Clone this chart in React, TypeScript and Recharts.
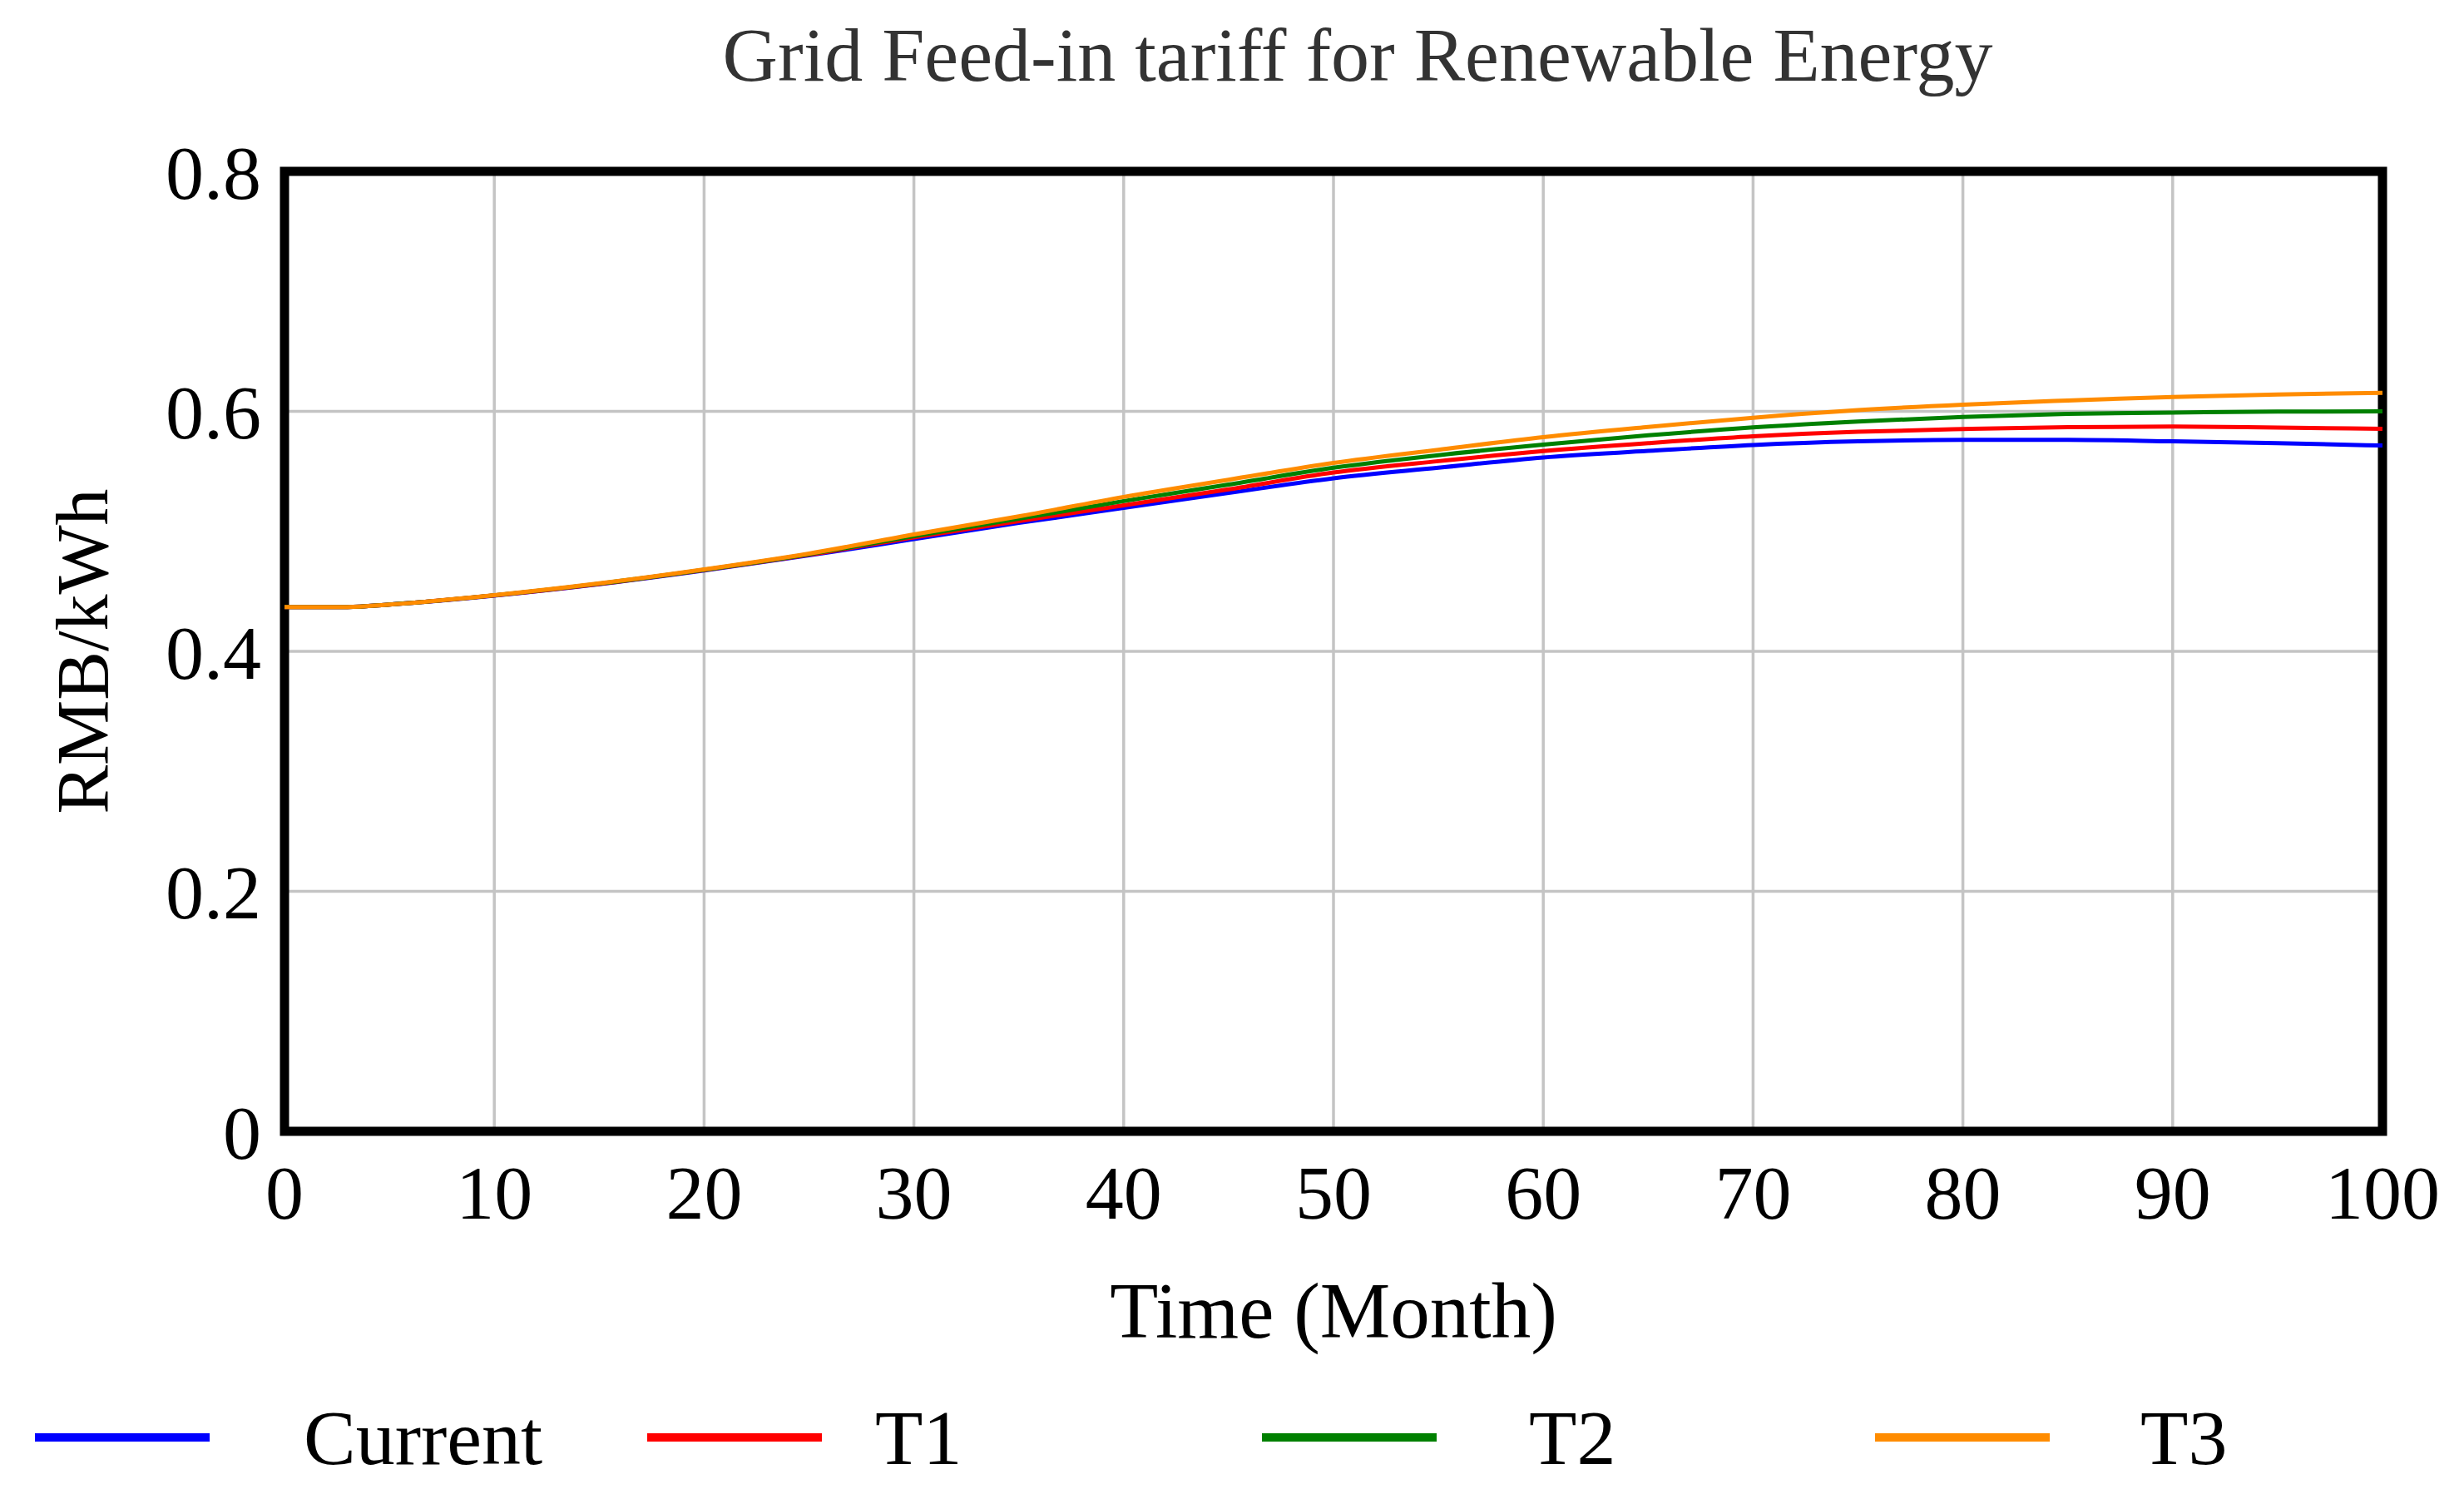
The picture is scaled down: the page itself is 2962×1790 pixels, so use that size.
import React from "react";
import { LineChart, Line, XAxis, YAxis, CartesianGrid, Legend, ReferenceArea } from "recharts";

const months = [0, 3, 5, 10, 15, 20, 25, 30, 35, 40, 45, 50, 55, 60, 65, 70, 75, 80, 85, 90, 95, 100];
const current = [0.437, 0.437, 0.439, 0.4465, 0.456, 0.4674, 0.48, 0.4935, 0.507, 0.5195, 0.532, 0.5442, 0.553, 0.5616, 0.567, 0.572, 0.575, 0.5762, 0.5762, 0.575, 0.5735, 0.5715];
const t1 = [0.437, 0.437, 0.439, 0.4466, 0.4562, 0.4677, 0.4805, 0.495, 0.5085, 0.5217, 0.535, 0.549, 0.5585, 0.5669, 0.5735, 0.5792, 0.583, 0.5852, 0.5868, 0.5873, 0.5865, 0.5854];
const t2 = [0.437, 0.437, 0.439, 0.4467, 0.4564, 0.468, 0.481, 0.496, 0.5105, 0.5252, 0.539, 0.553, 0.5635, 0.5722, 0.58, 0.5866, 0.5915, 0.5954, 0.598, 0.599, 0.5998, 0.6];
const t3 = [0.437, 0.437, 0.439, 0.4468, 0.4566, 0.4683, 0.4815, 0.4974, 0.5125, 0.5287, 0.543, 0.557, 0.568, 0.5785, 0.587, 0.5947, 0.601, 0.6056, 0.609, 0.612, 0.614, 0.6155];

const xTicks = [0, 10, 20, 30, 40, 50, 60, 70, 80, 90, 100];
const yTicks = [0, 0.2, 0.4, 0.6, 0.8];

const seriesNames = ["Current", "T1", "T2", "T3"];
const seriesKeys = ["current", "t1", "t2", "t3"];
const seriesColors = ["#0000ff", "#ff0000", "#008000", "#ff8c00"];

const data = months.map((m, i) => ({
  month: m,
  current: current[i],
  t1: t1[i],
  t2: t2[i],
  t3: t3[i],
}));

const FONT = "'Liberation Serif', 'Times New Roman', serif";
const W = 2946;
const H = 1774;

const legendLineLefts = [34, 770, 1509, 2246];
const legendTextLefts = [357, 1044, 1830, 2565];

const LegendContent = () => (
  <div style={{ position: "relative", width: W, height: 100 }}>
    {seriesNames.map((name, i) => (
      <React.Fragment key={name}>
        <div
          style={{
            position: "absolute",
            left: legendLineLefts[i],
            top: 45,
            width: 210,
            height: 10,
            background: seriesColors[i],
          }}
        />
        <div
          style={{
            position: "absolute",
            left: legendTextLefts[i],
            top: 0,
            height: 100,
            lineHeight: "100px",
            fontFamily: FONT,
            fontSize: 94,
            color: "#000",
            whiteSpace: "nowrap",
          }}
        >
          {name}
        </div>
      </React.Fragment>
    ))}
  </div>
);

export default function App() {
  return (
    <div style={{ position: "relative", width: W, height: H, background: "#fff" }}>
      <div
        style={{
          position: "absolute",
          left: 0,
          width: 3248,
          top: 0,
          textAlign: "center",
          fontFamily: FONT,
          fontSize: 92,
          color: "#333",
          lineHeight: "116px",
          whiteSpace: "nowrap",
        }}
      >
        Grid Feed-in tariff for Renewable Energy
      </div>
      <LineChart
        width={W}
        height={H}
        data={data}
        margin={{ top: 198, right: 90, left: 34, bottom: 4 }}
      >
        <CartesianGrid stroke="#c4c4c4" strokeWidth={3.5} vertical horizontal />
        <XAxis
          dataKey="month"
          type="number"
          domain={[0, 100]}
          ticks={xTicks}
          tickLine={false}
          tickSize={0}
          tickMargin={40}
          axisLine={false}
          height={318}
          tick={{ fontFamily: FONT, fontSize: 92, fill: "#000" }}
          label={{
            value: "Time (Month)",
            position: "insideBottom",
            offset: 70,
            style: { fontFamily: FONT, fontSize: 95, fill: "#000" },
          }}
        />
        <YAxis
          type="number"
          domain={[0, 0.8]}
          ticks={yTicks}
          tickLine={false}
          tickSize={0}
          tickMargin={28}
          width={300}
          axisLine={false}
          tick={{ fontFamily: FONT, fontSize: 92, fill: "#000" }}
          label={{
            value: "RMB/kWh",
            angle: -90,
            position: "insideLeft",
            offset: 56,
            style: { fontFamily: FONT, fontSize: 88, fill: "#000", textAnchor: "middle" },
          }}
        />
        <Legend
          verticalAlign="bottom"
          height={100}
          wrapperStyle={{ left: 0, width: W, height: 100 }}
          content={() => <LegendContent />}
        />
        {seriesKeys.map((k, i) => (
          <Line
            key={k}
            type="monotone"
            dataKey={k}
            name={seriesNames[i]}
            stroke={seriesColors[i]}
            strokeWidth={5}
            dot={false}
            activeDot={false}
            isAnimationActive={false}
          />
        ))}
        <ReferenceArea
          x1={0}
          x2={100}
          y1={0}
          y2={0.8}
          fill="none"
          fillOpacity={0}
          stroke="#000"
          strokeWidth={11}
          ifOverflow="visible"
        />
      </LineChart>
    </div>
  );
}
